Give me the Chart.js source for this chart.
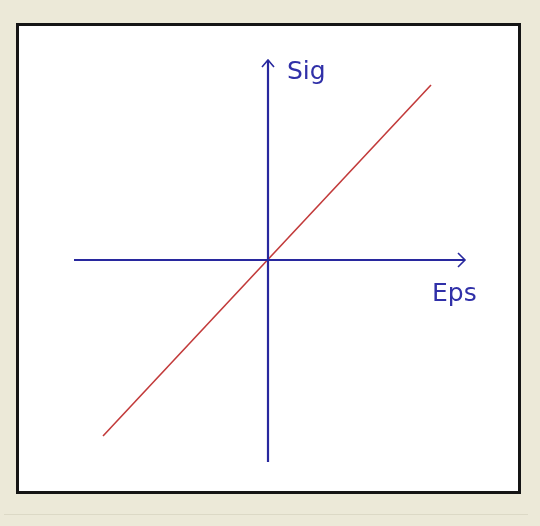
<!DOCTYPE html>
<html>
<head>
<meta charset="utf-8">
<script src="https://cdn.jsdelivr.net/npm/chart.js@4"></script>
<style>
  html, body { margin: 0; padding: 0; background: #ece9d8; }
  #wrap { position: relative; width: 540px; height: 526px; }
  #box { position: absolute; left: 16px; top: 23px; width: 499px; height: 465px;
         background: #fff; border: 3px solid #151515; }
  #strip { position: absolute; left: 4px; top: 514px; width: 524px; height: 1px; background: #dcd9c6; }
  #c { position: absolute; left: 0; top: 0; }
</style>
</head>
<body>
<div id="wrap">
  <div id="box"></div>
  <div id="strip"></div>
  <canvas id="c" width="540" height="526"></canvas>
</div>
<script>
// axis ends (data units, origin at the centre)
const epsAxis = [-1.94, 1.97];
const sigAxis = [-2.02, 2.00];
// linear stress-strain line
const epsLine = [-1.65, 1.63];
const sigLine = [-1.76, 1.75];
const labels = ['Eps', 'Sig'];

const blue = '#28289e';
const red = '#c23a3a';

const arrows = {
  id: 'arrows',
  afterDatasetsDraw(chart) {
    const ctx = chart.ctx, x = chart.scales.x, y = chart.scales.y;
    const ox = x.getPixelForValue(0), oy = y.getPixelForValue(0);
    const ex = x.getPixelForValue(epsAxis[1]);
    const sy = y.getPixelForValue(sigAxis[1]);
    ctx.save();
    ctx.strokeStyle = blue;
    ctx.lineWidth = 1.6;
    ctx.beginPath();
    ctx.moveTo(ex - 7, oy - 7); ctx.lineTo(ex, oy); ctx.lineTo(ex - 7, oy + 7);
    ctx.moveTo(ox - 6, sy + 7); ctx.lineTo(ox, sy); ctx.lineTo(ox + 6, sy + 7);
    ctx.stroke();
    ctx.fillStyle = '#3030a8';
    ctx.font = '25px "DejaVu Sans"';
    ctx.textBaseline = 'alphabetic';
    ctx.fillText(labels[0], ex - 33, oy + 41);
    ctx.fillText(labels[1], ox + 19, sy + 19);
    ctx.restore();
  }
};

new Chart(document.getElementById('c'), {
  type: 'scatter',
  data: {
    datasets: [
      { data: epsAxis.map(v => ({ x: v, y: 0 })), showLine: true,
        borderColor: blue, borderWidth: 2.2, pointRadius: 0 },
      { data: sigAxis.map(v => ({ x: 0, y: v })), showLine: true,
        borderColor: blue, borderWidth: 2.2, pointRadius: 0 },
      { data: epsLine.map((v, i) => ({ x: v, y: sigLine[i] })), showLine: true,
        borderColor: red, borderWidth: 1.6, pointRadius: 0 }
    ]
  },
  options: {
    responsive: false,
    animation: false,
    layout: { padding: 0 },
    plugins: { legend: { display: false }, tooltip: { enabled: false } },
    scales: {
      x: { type: 'linear', display: false, min: -2.68, max: 2.72 },
      y: { type: 'linear', display: false, min: -2.66, max: 2.60 }
    }
  },
  plugins: [arrows]
});
</script>
</body>
</html>
